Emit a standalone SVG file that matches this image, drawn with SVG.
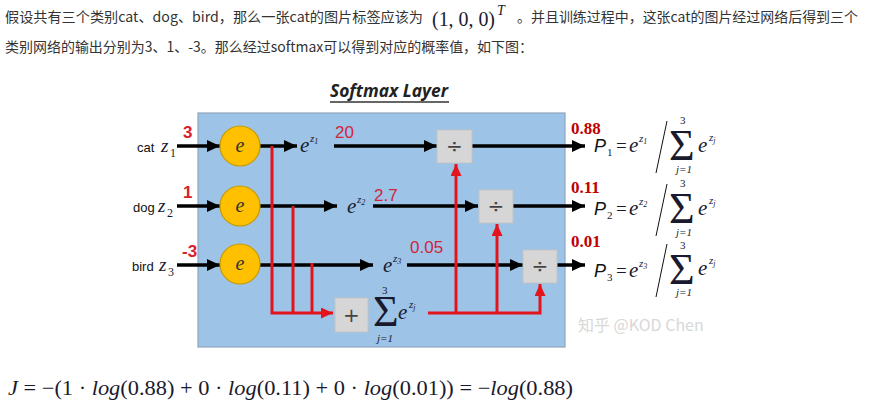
<svg xmlns="http://www.w3.org/2000/svg" width="871" height="417" viewBox="0 0 871 417">
<style>
.cn{font-family:"Noto Sans CJK SC","Noto Sans",sans-serif;font-size:14px;fill:#333}
.blk{stroke:#000;stroke-width:3.5;fill:none}
.red{stroke:#e3141c;stroke-width:3;fill:none}
.circ{fill:#ffc000;stroke:#c79a00;stroke-width:1.2}
.ce{font-family:"Liberation Serif",serif;font-style:italic;font-size:20px;fill:#333;text-anchor:middle}
.box{fill:#d6d6d6;stroke:#c4c4c4;stroke-width:1}
.op{font-family:"DejaVu Sans",sans-serif;font-size:20px;fill:#444;text-anchor:middle}
.num{font-family:"Liberation Sans",sans-serif;font-size:17px;fill:#d0263a}
.numb{font-family:"Liberation Sans",sans-serif;font-size:17px;font-weight:bold;fill:#d9202e}
.m{font-family:"Liberation Serif",serif;fill:#1a1a2e}
.mi{font-family:"Liberation Serif",serif;font-style:italic;fill:#1a1a2e}
.sig{font-family:"Liberation Serif",serif;fill:#1a1a2e;font-size:44px}
.lbl{font-family:"Liberation Sans",sans-serif;font-size:13px;fill:#111}
.out{font-family:"Liberation Serif",serif;font-weight:bold;font-size:17px;fill:#c00000}
.ps{font-family:"Liberation Sans",sans-serif;font-style:italic;fill:#111}
</style>
<defs>
<marker id="ab" markerUnits="userSpaceOnUse" markerWidth="13" markerHeight="12" refX="13" refY="6" orient="auto"><path d="M0,0 L13,6 L0,12 z" fill="#000"/></marker>
<marker id="ar" markerUnits="userSpaceOnUse" markerWidth="12" markerHeight="11" refX="12" refY="5.5" orient="auto"><path d="M0,0 L12,5.5 L0,11 z" fill="#e3141c"/></marker>
</defs>
<rect width="871" height="417" fill="#fff"/>

<!-- header text -->
<text class="cn" x="5" y="22" textLength="418" lengthAdjust="spacingAndGlyphs">假设共有三个类别cat、dog、bird，那么一张cat的图片标签应该为</text>
<text class="m" x="432" y="26" font-size="21" textLength="63" lengthAdjust="spacingAndGlyphs">(1, 0, 0)</text>
<text class="mi" x="497" y="15" font-size="14">T</text>
<text class="cn" x="517" y="22" textLength="341" lengthAdjust="spacingAndGlyphs">。并且训练过程中，这张cat的图片经过网络后得到三个</text>
<text class="cn" x="5" y="52" textLength="528" lengthAdjust="spacingAndGlyphs">类别网络的输出分别为3、1、-3。那么经过softmax可以得到对应的概率值，如下图：</text>

<!-- title -->
<g id="title">
<text x="330" y="97" font-family="Open Sans, sans-serif" font-weight="bold" font-style="italic" font-size="17" fill="#222" textLength="118" lengthAdjust="spacingAndGlyphs">Softmax Layer</text>
<line x1="330" y1="102" x2="449" y2="102" stroke="#333" stroke-width="1.3"/>
</g>

<!-- layer background -->
<rect id="layer" x="198" y="113" width="367" height="234" fill="#9dc3e6" stroke="#8ea6bd" stroke-width="1.2"/>

<!-- watermark -->
<text x="578" y="331" font-family="Noto Sans CJK SC, sans-serif" font-size="16" fill="#c8c8c8" opacity="0.7">知乎 @KOD Chen</text>

<!-- connectors -->
<g id="connectors">
<path class="blk" d="M177,146 H220" marker-end="url(#ab)"/>
<path class="blk" d="M260,146 H297" marker-end="url(#ab)"/>
<path class="blk" d="M334,146 H437" marker-end="url(#ab)"/>
<path class="blk" d="M472,146 H585" marker-end="url(#ab)"/>
<path class="blk" d="M177,206 H220" marker-end="url(#ab)"/>
<path class="blk" d="M260,206 H337" marker-end="url(#ab)"/>
<path class="blk" d="M373,206 H478" marker-end="url(#ab)"/>
<path class="blk" d="M513,206 H585" marker-end="url(#ab)"/>
<path class="blk" d="M177,265 H220" marker-end="url(#ab)"/>
<path class="blk" d="M260,265 H373" marker-end="url(#ab)"/>
<path class="blk" d="M407,265 H523" marker-end="url(#ab)"/>
<path class="blk" d="M557,265 H585" marker-end="url(#ab)"/>
<path class="red" d="M272,146 V313 H333" marker-end="url(#ar)"/>
<path class="red" d="M293,206 V313"/>
<path class="red" d="M312,263 V313"/>
<path class="red" d="M428,313 H540 V284" marker-end="url(#ar)"/>
<path class="red" d="M456,313 V164" marker-end="url(#ar)"/>
<path class="red" d="M497,313 V224" marker-end="url(#ar)"/>
</g>

<!-- inputs -->
<g id="in-cat">
<text class="lbl" x="137" y="152">cat</text>
<text class="mi" x="161" y="152" font-size="19" fill="#333">z</text>
<text class="m" x="170" y="157" font-size="12">1</text>
<text class="numb" x="183" y="138">3</text>
</g>
<g id="in-dog">
<text class="lbl" x="133" y="212">dog</text>
<text class="mi" x="158" y="212" font-size="19">z</text>
<text class="m" x="167" y="217" font-size="12">2</text>
<text class="numb" x="183" y="198">1</text>
</g>
<g id="in-bird">
<text class="lbl" x="132" y="271">bird</text>
<text class="mi" x="159" y="271" font-size="19">z</text>
<text class="m" x="168" y="276" font-size="12">3</text>
<text class="numb" x="182" y="257">-3</text>
</g>

<!-- exp nodes -->
<g id="exp1"><circle class="circ" cx="240" cy="146" r="20"/><text class="ce" x="240" y="152">e</text></g>
<g id="exp2"><circle class="circ" cx="240" cy="206" r="20"/><text class="ce" x="240" y="212">e</text></g>
<g id="exp3"><circle class="circ" cx="240" cy="264" r="20"/><text class="ce" x="240" y="270">e</text></g>

<!-- exp labels -->
<g id="ez1"><text class="mi" x="300" y="152" font-size="21">e</text><text class="mi" x="310" y="142" font-size="11">z<tspan font-size="8" dy="2">1</tspan></text><text class="num" x="335" y="138">20</text></g>
<g id="ez2"><text class="mi" x="347" y="213" font-size="21">e</text><text class="mi" x="357" y="203" font-size="11">z<tspan font-size="8" dy="2">2</tspan></text><text class="num" x="374" y="201">2.7</text></g>
<g id="ez3"><text class="mi" x="383" y="272" font-size="21">e</text><text class="mi" x="393" y="262" font-size="11">z<tspan font-size="8" dy="2">3</tspan></text><text class="num" x="410" y="253">0.05</text></g>

<!-- sum node -->
<g id="sum">
<rect class="box" x="335" y="298" width="33" height="34"/>
<text class="op" x="351.5" y="322" font-size="24">+</text>
<text class="sig" x="373" y="326" font-size="38">Σ</text>
<text class="m" x="382" y="294" font-size="11">3</text>
<text class="mi" x="377" y="342" font-size="11">j=1</text>
<text class="mi" x="398" y="319" font-size="21">e</text>
<text class="mi" x="409" y="308" font-size="11">z<tspan font-size="8" dy="2">j</tspan></text>
</g>

<!-- division nodes -->
<g id="div1"><rect class="box" x="437" y="130" width="35" height="33"/><text class="op" x="454.5" y="153">÷</text></g>
<g id="div2"><rect class="box" x="479" y="190" width="34" height="33"/><text class="op" x="496" y="213">÷</text></g>
<g id="div3"><rect class="box" x="523" y="250" width="34" height="33"/><text class="op" x="540" y="273">÷</text></g>

<!-- outputs -->
<g id="out1">
<text class="out" x="571" y="134">0.88</text>
<text class="ps" x="594" y="152" font-size="18">P</text>
<text class="m" x="607" y="156" font-size="11">1</text>
<text class="m" x="616" y="152" font-size="19">=</text>
<text class="mi" x="629" y="152" font-size="21">e</text>
<text class="mi" x="639" y="142" font-size="11">z<tspan font-size="8" dy="2">1</tspan></text>
<line x1="656" y1="173" x2="667" y2="121" stroke="#111" stroke-width="1"/>
<text class="sig" x="669" y="160">Σ</text>
<text class="m" x="680" y="124" font-size="11">3</text>
<text class="mi" x="676" y="173" font-size="11">j=1</text>
<text class="mi" x="698" y="152" font-size="21">e</text>
<text class="mi" x="709" y="141" font-size="11">z<tspan font-size="8" dy="2">j</tspan></text>
</g>
<g id="out2">
<text class="out" x="571" y="193">0.11</text>
<text class="ps" x="594" y="215" font-size="18">P</text>
<text class="m" x="607" y="219" font-size="11">2</text>
<text class="m" x="616" y="215" font-size="19">=</text>
<text class="mi" x="629" y="215" font-size="21">e</text>
<text class="mi" x="639" y="205" font-size="11">z<tspan font-size="8" dy="2">2</tspan></text>
<line x1="656" y1="236" x2="667" y2="184" stroke="#111" stroke-width="1"/>
<text class="sig" x="669" y="223">Σ</text>
<text class="m" x="680" y="187" font-size="11">3</text>
<text class="mi" x="676" y="236" font-size="11">j=1</text>
<text class="mi" x="698" y="215" font-size="21">e</text>
<text class="mi" x="709" y="204" font-size="11">z<tspan font-size="8" dy="2">j</tspan></text>
</g>
<g id="out3">
<text class="out" x="571" y="247">0.01</text>
<text class="ps" x="594" y="277" font-size="18">P</text>
<text class="m" x="607" y="281" font-size="11">3</text>
<text class="m" x="616" y="277" font-size="19">=</text>
<text class="mi" x="629" y="277" font-size="21">e</text>
<text class="mi" x="639" y="267" font-size="11">z<tspan font-size="8" dy="2">3</tspan></text>
<line x1="656" y1="297" x2="667" y2="244" stroke="#111" stroke-width="1"/>
<text class="sig" x="669" y="284">Σ</text>
<text class="m" x="680" y="249" font-size="11">3</text>
<text class="mi" x="676" y="296" font-size="11">j=1</text>
<text class="mi" x="698" y="275" font-size="21">e</text>
<text class="mi" x="709" y="264" font-size="11">z<tspan font-size="8" dy="2">j</tspan></text>
</g>

<!-- loss formula -->
<text class="m" x="8" y="395" font-size="21" textLength="565" lengthAdjust="spacingAndGlyphs"><tspan font-style="italic">J</tspan> = −(1 · <tspan font-style="italic">log</tspan>(0.88) + 0 · <tspan font-style="italic">log</tspan>(0.11) + 0 · <tspan font-style="italic">log</tspan>(0.01)) = −<tspan font-style="italic">log</tspan>(0.88)</text>
</svg>
